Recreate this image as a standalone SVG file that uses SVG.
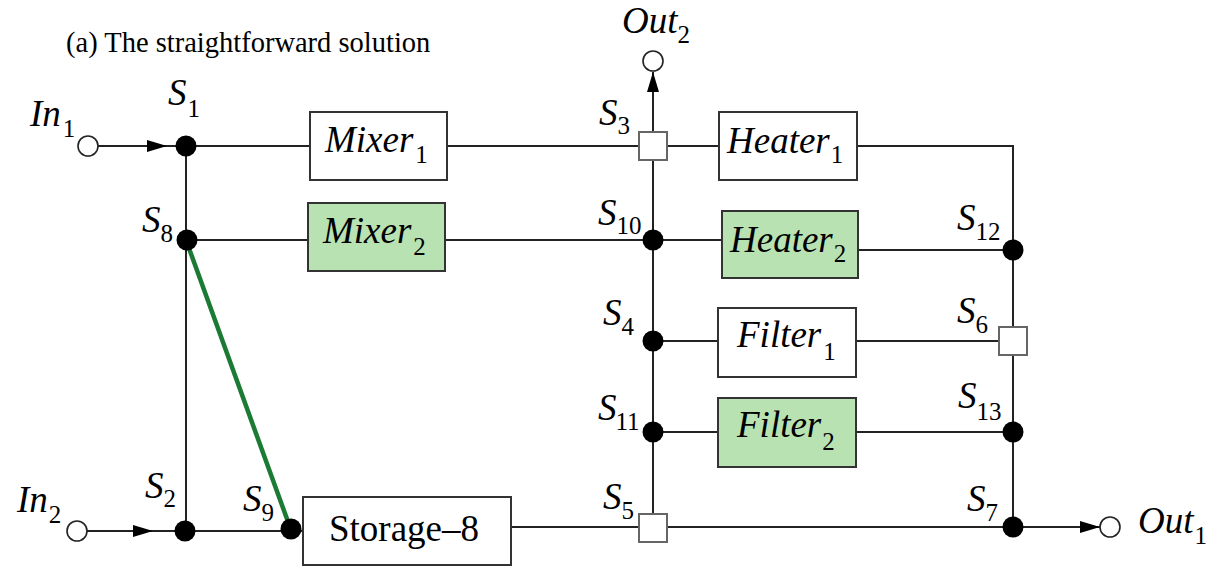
<svg xmlns="http://www.w3.org/2000/svg" width="1220" height="566" viewBox="0 0 1220 566">
  <style>
    .wire { stroke: #222; stroke-width: 2; fill: none; }
    .green { stroke: #1b7a33; stroke-width: 4.5; fill: none; stroke-linecap: round; }
    .box { fill: #fff; stroke: #333; stroke-width: 2; }
    .box.alt { fill: #b8e2b1; }
    .dot { fill: #000; }
    .port { fill: #fff; stroke: #222; stroke-width: 1.6; }
    .sq { fill: #fff; stroke: #666; stroke-width: 2; }
    .lbl { font-family: "Liberation Serif", "Times New Roman", serif; font-style: italic; font-size: 37px; fill: #000; }
    .sub { font-family: "Liberation Serif", "Times New Roman", serif; font-style: normal; font-size: 25px; fill: #000; }
    .plain { font-family: "Liberation Serif", "Times New Roman", serif; font-size: 37px; fill: #000; }
    .title { font-family: "Liberation Serif", "Times New Roman", serif; font-size: 28.5px; fill: #000; }
  </style>
  <defs>
    <marker id="arrow" viewBox="0 0 20 12" refX="20" refY="6" markerWidth="20" markerHeight="12" markerUnits="userSpaceOnUse" orient="auto">
      <path d="M0,0 L20,6 L0,12 z" fill="#000"/>
    </marker>
  </defs>

  <text class="title" x="66" y="52">(a) The straightforward solution</text>

  <!-- connectors -->
  <g id="connectors">
    <!-- top row -->
    <path class="wire" d="M98,146 L167,146" marker-end="url(#arrow)"/>
    <path class="wire" d="M167,146 L310,146"/>
    <path class="wire" d="M447,146 L719,146"/>
    <path class="wire" d="M857,146 L1013,146 L1013,527"/>
    <!-- left bus -->
    <path class="wire" d="M186,146 L186,531"/>
    <path class="wire" d="M186,240 L308,240"/>
    <path class="wire" d="M445,240 L722,240"/>
    <path class="wire" d="M858,250 L1013,250"/>
    <!-- middle bus with Out2 -->
    <path class="wire" d="M653,527 L653,72" marker-end="url(#arrow)"/>
    <path class="wire" d="M653,341 L718,341"/>
    <path class="wire" d="M856,341 L1013,341"/>
    <path class="wire" d="M653,432 L718,432"/>
    <path class="wire" d="M856,432 L1013,432"/>
    <!-- bottom row -->
    <path class="wire" d="M87,531 L153,531" marker-end="url(#arrow)"/>
    <path class="wire" d="M153,531 L303,531"/>
    <path class="wire" d="M511,527 L1013,527"/>
    <path class="wire" d="M1013,527 L1100,527" marker-end="url(#arrow)"/>
    <!-- added link S8 to S9 -->
    <path class="green" d="M186,240 L291,530"/>
  </g>

  <!-- terminals -->
  <g id="in1">
    <circle class="port" cx="88" cy="146" r="10"/>
    <text class="lbl" x="30" y="126">In<tspan class="sub" dx="2" y="137">1</tspan></text>
  </g>
  <g id="in2">
    <circle class="port" cx="77" cy="531" r="10"/>
    <text class="lbl" x="17" y="512">In<tspan class="sub" dx="1" y="523">2</tspan></text>
  </g>
  <g id="out2">
    <circle class="port" cx="653" cy="61" r="10"/>
    <text class="lbl" x="622" y="33">Out<tspan class="sub" dx="0" y="43">2</tspan></text>
  </g>
  <g id="out1">
    <circle class="port" cx="1110" cy="527" r="10"/>
    <text class="lbl" x="1138" y="533">Out<tspan class="sub" dx="1" y="544">1</tspan></text>
  </g>

  <!-- units -->
  <g id="mixer1">
    <rect class="box" x="310" y="112" width="137" height="68"/>
    <text class="lbl" x="325" y="152">Mixer<tspan class="sub" dx="2" y="163">1</tspan></text>
  </g>
  <g id="mixer2">
    <rect class="box alt" x="308" y="203" width="137" height="68"/>
    <text class="lbl" x="323" y="243">Mixer<tspan class="sub" dx="2" y="255">2</tspan></text>
  </g>
  <g id="heater1">
    <rect class="box" x="719" y="112" width="138" height="68"/>
    <text class="lbl" x="727" y="153">Heater<tspan class="sub" dx="1" y="163">1</tspan></text>
  </g>
  <g id="heater2">
    <rect class="box alt" x="722" y="211" width="136" height="67"/>
    <text class="lbl" x="730" y="252">Heater<tspan class="sub" dx="1" y="262">2</tspan></text>
  </g>
  <g id="filter1">
    <rect class="box" x="718" y="308" width="138" height="69"/>
    <text class="lbl" x="737" y="347">Filter<tspan class="sub" dx="2" y="360">1</tspan></text>
  </g>
  <g id="filter2">
    <rect class="box alt" x="718" y="398" width="138" height="69"/>
    <text class="lbl" x="737" y="437">Filter<tspan class="sub" dx="1" y="450">2</tspan></text>
  </g>
  <g id="storage8">
    <rect class="box" x="303" y="497" width="208" height="68"/>
    <text class="plain" x="329" y="541">Storage–8</text>
  </g>

  <!-- switches -->
  <g id="s1">
    <circle class="dot" cx="186" cy="146" r="10.5"/>
    <text class="lbl" x="168" y="105">S<tspan class="sub" dx="1" y="117">1</tspan></text>
  </g>
  <g id="s8">
    <circle class="dot" cx="187" cy="240" r="10.5"/>
    <text class="lbl" x="142" y="232">S<tspan class="sub" dx="0" y="242">8</tspan></text>
  </g>
  <g id="s2">
    <circle class="dot" cx="185" cy="531" r="10.5"/>
    <text class="lbl" x="145" y="498">S<tspan class="sub" dx="0" y="507">2</tspan></text>
  </g>
  <g id="s9">
    <circle class="dot" cx="291" cy="529" r="10.5"/>
    <text class="lbl" x="243" y="511">S<tspan class="sub" dx="0" y="521">9</tspan></text>
  </g>
  <g id="s3">
    <rect class="sq" x="639" y="132" width="28" height="28"/>
    <text class="lbl" x="599" y="125">S<tspan class="sub" dx="0" y="134">3</tspan></text>
  </g>
  <g id="s10">
    <circle class="dot" cx="653" cy="240" r="10.5"/>
    <text class="lbl" x="598" y="225">S<tspan class="sub" dx="0" y="234">10</tspan></text>
  </g>
  <g id="s4">
    <circle class="dot" cx="653" cy="341" r="10.5"/>
    <text class="lbl" x="603" y="325">S<tspan class="sub" dx="0" y="335">4</tspan></text>
  </g>
  <g id="s11">
    <circle class="dot" cx="653" cy="432" r="10.5"/>
    <text class="lbl" x="598" y="420">S<tspan class="sub" dx="-1" y="430">11</tspan></text>
  </g>
  <g id="s5">
    <rect class="sq" x="639" y="514" width="28" height="28"/>
    <text class="lbl" x="603" y="509">S<tspan class="sub" dx="0" y="519">5</tspan></text>
  </g>
  <g id="s12">
    <circle class="dot" cx="1013" cy="250" r="10.5"/>
    <text class="lbl" x="957" y="230">S<tspan class="sub" dx="0" y="240">12</tspan></text>
  </g>
  <g id="s6">
    <rect class="sq" x="999" y="327" width="28" height="28"/>
    <text class="lbl" x="957" y="323">S<tspan class="sub" dx="0" y="333">6</tspan></text>
  </g>
  <g id="s13">
    <circle class="dot" cx="1013" cy="432" r="10.5"/>
    <text class="lbl" x="958" y="408">S<tspan class="sub" dx="0" y="420">13</tspan></text>
  </g>
  <g id="s7">
    <circle class="dot" cx="1013" cy="527" r="10.5"/>
    <text class="lbl" x="967" y="511">S<tspan class="sub" dx="0" y="521">7</tspan></text>
  </g>
</svg>
